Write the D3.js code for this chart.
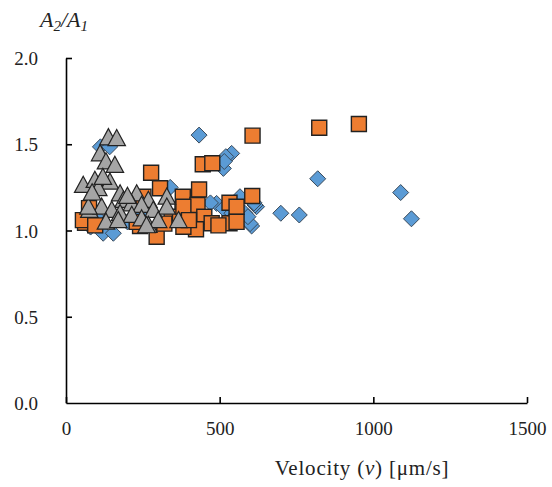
<!DOCTYPE html>
<html>
<head>
<meta charset="utf-8">
<script src="https://cdn.jsdelivr.net/npm/d3@7"></script>
<style>
  html, body { margin: 0; padding: 0; background: #fff; }
  svg { display: block; }
</style>
</head>
<body>
<svg id="chart" width="552" height="487"></svg>
<script>
// Velocity [µm/s] and amplitude ratio A2/A1 for the three measurement groups
const diamondVelocity = [433, 539, 520, 512, 515, 112, 142, 490, 512, 566, 582, 604, 620, 599, 592, 615, 612, 699, 759, 819, 1089, 1124, 121, 154, 80, 110, 339, 540, 470, 200, 250];
const diamondRatio    = [1.553, 1.447, 1.428, 1.36, 1.40, 1.485, 1.485, 1.157, 1.128, 1.196, 1.10, 1.026, 1.138, 1.04, 1.08, 1.148, 1.16, 1.10, 1.09, 1.30, 1.22, 1.068, 0.984, 0.984, 1.02, 1.06, 1.25, 1.10, 1.16, 1.05, 1.10];

const squareVelocity = [277, 306, 445, 476, 607, 824, 953, 380, 433, 428, 532, 606, 379, 450, 532, 423, 295, 241, 344, 62, 75, 55, 95, 252, 371, 382, 474, 496, 555, 555, 382, 230, 320, 400];
const squareRatio    = [1.335, 1.245, 1.384, 1.39, 1.55, 1.596, 1.617, 1.196, 1.238, 1.148, 1.161, 1.20, 1.123, 1.08, 1.042, 1.007, 0.964, 1.026, 1.07, 1.045, 1.13, 1.06, 1.03, 1.196, 1.08, 1.022, 1.042, 1.03, 1.138, 1.05, 1.138, 1.05, 1.04, 1.06];

const triangleVelocity = [138, 165, 111, 130, 159, 56, 94, 143, 105, 176, 230, 187, 268, 328, 214, 246, 76, 116, 149, 176, 284, 328, 214, 130, 170, 268, 366, 300, 246, 73, 262, 120, 200, 85];
const triangleRatio    = [1.54, 1.535, 1.447, 1.40, 1.38, 1.264, 1.293, 1.283, 1.245, 1.215, 1.215, 1.177, 1.177, 1.196, 1.157, 1.148, 1.119, 1.138, 1.119, 1.10, 1.119, 1.138, 1.09, 1.051, 1.06, 1.032, 1.06, 1.06, 1.07, 1.138, 1.03, 1.31, 1.20, 1.22];

const xTicks = [0, 500, 1000, 1500];
const yTicks = [0, 0.5, 1.0, 1.5, 2.0];

const FONT = "'Liberation Serif', 'Times New Roman', Tinos, 'DejaVu Serif', 'Noto Serif', serif";

const svg = d3.select("#chart").style("font-family", FONT);

const x = d3.scaleLinear().domain([0, 1500]).range([66, 527]);
const y = d3.scaleLinear().domain([0, 2.0]).range([403, 58]);

// Axes with inward-pointing ticks
const xAxis = d3.axisBottom(x).tickValues(xTicks).tickSize(-6).tickSizeOuter(0).tickFormat(d3.format("d"));
const yAxis = d3.axisLeft(y).tickValues(yTicks).tickSize(-6).tickSizeOuter(0).tickFormat(d3.format(".1f"));

const gx = svg.append("g").attr("transform", `translate(0,${y(0)})`).call(xAxis);
const gy = svg.append("g").attr("transform", `translate(${x(0)},0)`).call(yAxis);

[gx, gy].forEach(g => {
  g.attr("font-family", FONT).attr("font-size", 19);
  g.select(".domain").attr("stroke", "#000").attr("stroke-width", 1.6);
  g.selectAll(".tick line").attr("stroke", "#000").attr("stroke-width", 1.6);
  g.selectAll(".tick text").style("font-family", FONT).style("font-size", "19px").attr("fill", "#222");
});
gx.selectAll(".tick text").attr("y", 19).attr("dy", "0.71em");
gy.selectAll(".tick text").attr("x", -28).attr("dy", "0.35em");
gy.select(".tick:first-of-type line").remove();

// Marker shapes
const squareSym = { draw(ctx, size) { const h = Math.sqrt(size) / 2; ctx.rect(-h, -h, 2 * h, 2 * h); } };
const diamondSym = { draw(ctx, size) { const h = Math.sqrt(size) / 2; ctx.moveTo(0, -h); ctx.lineTo(h, 0); ctx.lineTo(0, h); ctx.lineTo(-h, 0); ctx.closePath(); } };
const triangleSym = { draw(ctx, size) { const w = Math.sqrt(size) / 2; ctx.moveTo(0, -w); ctx.lineTo(w, w * 0.85); ctx.lineTo(-w, w * 0.85); ctx.closePath(); } };

const plot = svg.append("g");

function drawSeries(vx, vy, sym, size, fill, stroke, sw) {
  const pts = vx.map((v, i) => [v, vy[i]]);
  plot.append("g").selectAll("path").data(pts).join("path")
    .attr("transform", d => `translate(${x(d[0])},${y(d[1])})`)
    .attr("d", d3.symbol().type(sym).size(size))
    .attr("fill", fill)
    .attr("stroke", stroke)
    .attr("stroke-width", sw);
}

drawSeries(diamondVelocity, diamondRatio, diamondSym, 16 * 16, "#5B9BD5", "#3a4a5a", 1);
drawSeries(squareVelocity, squareRatio, squareSym, 15 * 15, "#ED7D31", "#222", 1.4);
drawSeries(triangleVelocity, triangleRatio, triangleSym, 17.5 * 17.5, "#A5A5A5", "#222", 1.2);

// Axis titles
const xt = svg.append("text").attr("x", 362).attr("y", 475).attr("text-anchor", "middle")
  .style("font-family", FONT).style("font-size", "21px").style("letter-spacing", "0.8px").attr("fill", "#222");
xt.append("tspan").text("Velocity (");
xt.append("tspan").attr("font-style", "italic").text("v");
xt.append("tspan").text(") [μm/s]");

const yt = svg.append("text").attr("x", 40).attr("y", 27)
  .style("font-family", FONT).style("font-size", "22px").attr("font-style", "italic").attr("fill", "#222");
yt.append("tspan").text("A");
yt.append("tspan").style("font-size", "15px").attr("dy", 4).text("2");
yt.append("tspan").attr("dy", -4).text("/A");
yt.append("tspan").style("font-size", "15px").attr("dy", 4).text("1");
</script>
</body>
</html>
